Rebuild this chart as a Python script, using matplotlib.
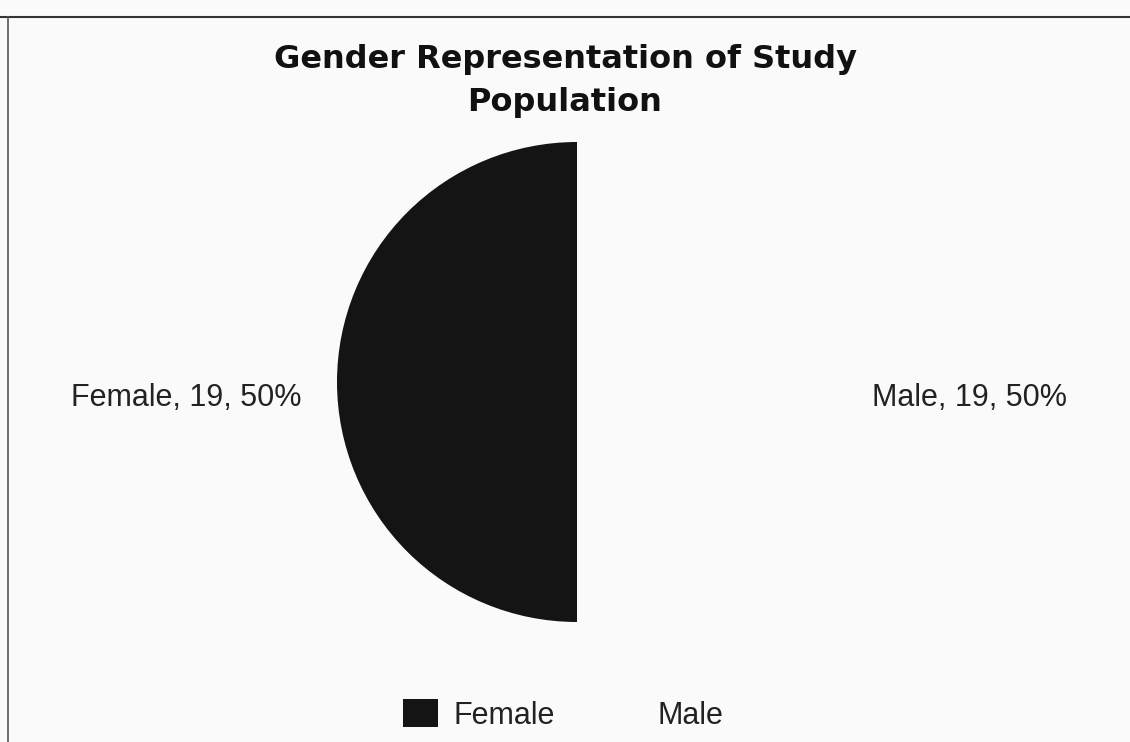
import matplotlib
matplotlib.use("Agg")
import matplotlib.pyplot as plt
from matplotlib.lines import Line2D

categories = ["Female", "Male"]
counts = [19, 19]
colors = ["#141414", "#fafafa"]
title = "Gender Representation of Study\nPopulation"

plt.rcParams['font.family'] = ['Liberation Sans', 'DejaVu Sans']

W, H = 1130, 742
fig = plt.figure(figsize=(W / 100, H / 100), dpi=100)
fig.patch.set_facecolor("#fafafa")

cx, cy, r = 577, 382, 240
ax = fig.add_axes([(cx - r) / W, (H - cy - r) / H, 2 * r / W, 2 * r / H])
ax.set_facecolor("none")
wedges, _ = ax.pie(counts, colors=colors, startangle=90, counterclock=True,
                   radius=1, wedgeprops=dict(linewidth=0))
ax.set_xlim(-1, 1)
ax.set_ylim(-1, 1)
ax.set_aspect("equal")
ax.axis("off")

total = sum(counts)
for cat, n, xpos, ha in zip(categories, counts, [-1.146, 1.229], ["right", "left"]):
    ax.text(xpos, -0.1, f"{cat}, {n}, {round(100 * n / total)}%", ha=ha, va="baseline",
            fontsize=22, color="#222222", clip_on=False)

fig.text(0.5, 1 - 44 / H, title, ha="center", va="top", fontsize=23,
         fontweight="bold", family=["DejaVu Sans"], color="#111111", linespacing=1.5)

leg = fig.legend(wedges, categories, loc="center", bbox_to_anchor=(563 / W, 1 - 715 / H),
                 ncol=2, frameon=False, fontsize=22, handlelength=1.15, handleheight=1.0,
                 columnspacing=1.7, handletextpad=0.5)
for t in leg.get_texts():
    t.set_color("#222222")

fig.add_artist(Line2D([0, 1], [1 - 17 / H, 1 - 17 / H], color="#333333", lw=1.5))
fig.add_artist(Line2D([8 / W, 8 / W], [0, 1 - 17 / H], color="#555555", lw=1.2))

fig.savefig("out.png", dpi=100, facecolor=fig.get_facecolor())
